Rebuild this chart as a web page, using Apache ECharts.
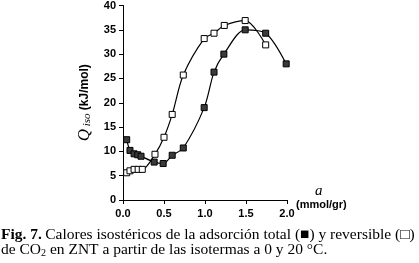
<!DOCTYPE html>
<html>
<head>
<meta charset="utf-8">
<script src="https://cdn.jsdelivr.net/npm/echarts@6/dist/echarts.min.js"></script>
<style>
  html, body { margin: 0; padding: 0; background: #fff; }
  #chart { width: 419px; height: 263px; }
</style>
</head>
<body>
<div id="chart"></div>
<script>
// total adsorption (filled squares)
const totalX = [0.045, 0.085, 0.135, 0.18, 0.22, 0.38, 0.49, 0.60, 0.735, 0.99, 1.11, 1.23, 1.49, 1.74, 1.99]
const totalY = [12.4, 10.2, 9.5, 9.3, 9.0, 7.8, 7.5, 9.2, 10.7, 19.0, 26.3, 30.0, 35.0, 34.3, 28.0]
// reversible adsorption (open squares)
const revX = [0.045, 0.085, 0.135, 0.185, 0.235, 0.39, 0.50, 0.60, 0.735, 0.99, 1.11, 1.235, 1.49, 1.74]
const revY = [5.6, 6.0, 6.3, 6.3, 6.3, 9.4, 12.9, 17.6, 25.7, 33.2, 34.3, 35.9, 36.9, 31.9]
const xTicks = [0, 0.5, 1.0, 1.5, 2.0]
const yTicks = [0, 5, 10, 15, 20, 25, 30, 35, 40]

const zip = (xs, ys) => xs.map((x, i) => [x, ys[i]])

const chart = echarts.init(document.getElementById("chart"))

const option = {
  animation: false,
  grid: { left: 123, right: 132, top: 4, bottom: 63 },
  xAxis: {
    type: "value",
    min: xTicks[0],
    max: xTicks[xTicks.length - 1],
    interval: 0.5,
    axisLine: { lineStyle: { color: "#000", width: 1 } },
    axisTick: { show: true, length: 4, lineStyle: { color: "#000" } },
    axisLabel: {
      color: "#000",
      fontFamily: "Liberation Sans",
      fontWeight: "bold",
      fontSize: 11,
      margin: 8,
      formatter: (v) => v.toFixed(1),
    },
    splitLine: { show: false },
  },
  yAxis: {
    type: "value",
    min: yTicks[0],
    max: yTicks[yTicks.length - 1],
    interval: 5,
    axisLine: { show: true, lineStyle: { color: "#000", width: 1 } },
    axisTick: { show: true, length: 4, lineStyle: { color: "#000" } },
    axisLabel: {
      color: "#000",
      fontFamily: "Liberation Sans",
      fontWeight: "bold",
      fontSize: 11,
      margin: 7,
    },
    splitLine: { show: false },
    name: "{q|Q}{s| iso} {u|(kJ/mol)}",
    nameLocation: "middle",
    nameRotate: 90,
    nameGap: 30,
    nameTextStyle: {
      rich: {
        q: { fontFamily: "Liberation Serif", fontStyle: "italic", fontSize: 17, color: "#000" },
        s: { fontFamily: "Liberation Serif", fontStyle: "italic", fontSize: 11, color: "#000", padding: [6, 0, 0, 0] },
        u: { fontFamily: "Liberation Sans", fontWeight: "bold", fontSize: 12, color: "#000" },
      },
    },
  },
  graphic: [
    {
      type: "text",
      left: 315,
      top: 184,
      style: { text: "a", font: "italic 15px 'Liberation Serif'", fill: "#000" },
    },
    {
      type: "text",
      left: 296,
      top: 199,
      style: { text: "(mmol/gr)", font: "bold 11px 'Liberation Sans'", fill: "#000" },
    },
    {
      type: "text",
      left: 1,
      top: 227,
      style: {
        text: "{b|Fig. 7.} {t|Calores isostéricos de la adsorción total (■) y reversible (□)}",
        rich: {
          b: { font: "bold 15.5px 'Liberation Serif'", fill: "#000" },
          t: { font: "15.5px 'Liberation Serif'", fill: "#000" },
        },
      },
    },
    {
      type: "text",
      left: 1,
      top: 242,
      style: {
        text: "{t|de CO}{s|2}{t| en ZNT a partir de las isotermas a 0 y 20 °C.}",
        rich: {
          t: { font: "15.5px 'Liberation Serif'", fill: "#000" },
          s: { font: "10px 'Liberation Serif'", fill: "#000", padding: [7, 0, 0, 0] },
        },
      },
    },
  ],
  series: [
    {
      name: "total",
      type: "line",
      smooth: 0.3,
      data: zip(totalX, totalY),
      symbol: "rect",
      symbolSize: 6,
      lineStyle: { color: "#000", width: 1.2 },
      itemStyle: { color: "#3a3a3a", borderColor: "#000", borderWidth: 1 },
      z: 3,
    },
    {
      name: "reversible",
      type: "line",
      smooth: 0.3,
      data: zip(revX, revY),
      symbol: "rect",
      symbolSize: 6,
      lineStyle: { color: "#000", width: 1.2 },
      itemStyle: { color: "#fff", borderColor: "#000", borderWidth: 1 },
      z: 4,
    },
  ],
}

chart.setOption(option)
</script>
</body>
</html>
